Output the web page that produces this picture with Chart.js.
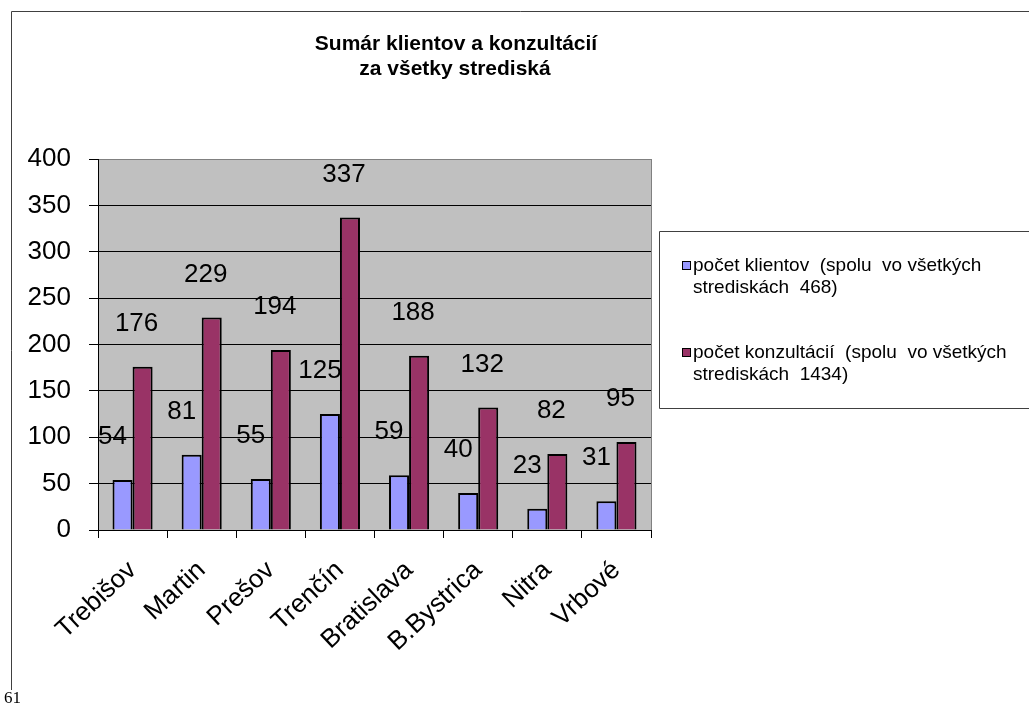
<!DOCTYPE html>
<html>
<head>
<meta charset="utf-8">
<script src="https://cdn.jsdelivr.net/npm/chart.js@4.4.1/dist/chart.umd.min.js"></script>
<style>
    html, body { margin: 0; padding: 0; background: #fff; }
    #wrap { width: 1029px; height: 705px; position: relative; }
</style>
</head>
<body>
<div id="wrap"><canvas id="chart"></canvas></div>
<script>
// Data
const categories = ["Trebišov", "Martin", "Prešov", "Trenčín", "Bratislava", "B.Bystrica", "Nitra", "Vrbové"];
const klienti = [54, 81, 55, 125, 59, 40, 23, 31];
const konzultacie = [176, 229, 194, 337, 188, 132, 82, 95];
const seriesNames = [
    "počet klientov (spolu vo všetkých strediskách 468)",
    "počet konzultácií (spolu vo všetkých strediskách 1434)"
];
const legendLines = [
    ["počet klientov  (spolu  vo všetkých", "strediskách  468)"],
    ["počet konzultácií  (spolu  vo všetkých", "strediskách  1434)"]
];
const titleLines = ["Sumár klientov a konzultácií", "za všetky strediská"];
const yTicks = [0, 50, 100, 150, 200, 250, 300, 350, 400];

const FONT = "Arial, 'Liberation Sans', sans-serif";

// Gray plot background, frame, title, legend, page number
const decorPlugin = {
    id: 'decor',
    beforeDraw(chart) {
        const ctx = chart.ctx;
        const a = chart.chartArea;
        ctx.save();
        ctx.fillStyle = '#c0c0c0';
        ctx.fillRect(a.left, a.top, a.right - a.left, a.bottom - a.top);
        // right edge of plot area
        ctx.strokeStyle = '#808080';
        ctx.lineWidth = 1;
        ctx.beginPath();
        ctx.moveTo(a.right + 0.5, a.top);
        ctx.lineTo(a.right + 0.5, a.bottom);
        ctx.stroke();
        ctx.restore();
    },
    afterDraw(chart) {
        const ctx = chart.ctx;
        ctx.save();
        // outer frame (goes past the picture on right and bottom)
        ctx.strokeStyle = '#404040';
        ctx.lineWidth = 1;
        ctx.beginPath();
        ctx.moveTo(11.5, 690);
        ctx.lineTo(11.5, 11.5);
        ctx.lineTo(1029, 11.5);
        ctx.stroke();

        // title
        ctx.fillStyle = '#000';
        ctx.font = 'bold 21px ' + FONT;
        ctx.textAlign = 'center';
        ctx.textBaseline = 'middle';
        ctx.fillText(titleLines[0], 456, 44);
        ctx.fillText(titleLines[1], 455, 69);

        // legend box
        ctx.strokeStyle = '#404040';
        ctx.beginPath();
        ctx.moveTo(1029, 231.5);
        ctx.lineTo(659.5, 231.5);
        ctx.lineTo(659.5, 408.5);
        ctx.lineTo(1029, 408.5);
        ctx.stroke();

        const itemY = [266, 353];
        chart.data.datasets.forEach((ds, i) => {
            const y = itemY[i];
            ctx.fillStyle = ds.backgroundColor;
            ctx.fillRect(683, y - 4, 7, 7);
            ctx.strokeStyle = '#000';
            ctx.lineWidth = 1;
            ctx.strokeRect(682.5, y - 4.5, 8, 8);
            ctx.fillStyle = '#000';
            ctx.font = '19px ' + FONT;
            ctx.textAlign = 'left';
            ctx.textBaseline = 'middle';
            legendLines[i].forEach((line, j) => {
                ctx.fillText(line, 693, y + j * 22);
            });
        });

        // page number
        ctx.font = "17px 'Times New Roman', 'Liberation Serif', serif";
        ctx.textAlign = 'left';
        ctx.textBaseline = 'alphabetic';
        ctx.fillText('61', 4, 703);
        ctx.restore();
    }
};

// Value labels, offset up and to the left like in the original
const valueLabels = {
    id: 'valueLabels',
    afterDatasetsDraw(chart) {
        const ctx = chart.ctx;
        const dx = [-10, -6];
        ctx.save();
        ctx.fillStyle = '#000';
        ctx.font = '26px ' + FONT;
        ctx.textAlign = 'center';
        ctx.textBaseline = 'middle';
        chart.data.datasets.forEach((ds, i) => {
            chart.getDatasetMeta(i).data.forEach((bar, j) => {
                ctx.fillText(ds.data[j], bar.x + dx[i], bar.y - 43);
            });
        });
        ctx.restore();
    }
};

new Chart(document.getElementById('chart'), {
    type: 'bar',
    data: {
        labels: categories,
        datasets: [
            {
                label: seriesNames[0],
                data: klienti,
                backgroundColor: '#9999ff',
                borderColor: '#000',
                borderWidth: 2,
                categoryPercentage: 0.58,
                barPercentage: 1
            },
            {
                label: seriesNames[1],
                data: konzultacie,
                backgroundColor: '#993366',
                borderColor: '#000',
                borderWidth: 2,
                categoryPercentage: 0.58,
                barPercentage: 1
            }
        ]
    },
    options: {
        responsive: true,
        maintainAspectRatio: false,
        animation: false,
        layout: { padding: { top: 159, left: 0, right: 378, bottom: 0 } },
        plugins: {
            legend: { display: false },
            title: { display: false },
            tooltip: { enabled: false }
        },
        scales: {
            x: {
                afterFit(scale) { scale.height = 175; },
                grid: {
                    offset: true,
                    drawOnChartArea: false,
                    color: '#000',
                    tickLength: 8
                },
                border: { color: '#000', width: 1 },
                ticks: {
                    color: '#000',
                    font: { family: FONT, size: 26 },
                    minRotation: 43,
                    maxRotation: 43,
                    padding: 17,
                    autoSkip: false
                }
            },
            y: {
                min: 0,
                max: 400,
                afterFit(scale) { scale.width = 98; },
                afterBuildTicks(scale) {
                    scale.ticks = yTicks.map(v => ({ value: v }));
                },
                grid: {
                    color: ctx => (ctx.tick && ctx.tick.value === 400 ? '#808080' : '#000'),
                    tickColor: '#000',
                    tickLength: 9
                },
                border: { color: '#000', width: 1 },
                ticks: {
                    color: '#000',
                    font: { family: FONT, size: 26 },
                    padding: 18
                }
            }
        }
    },
    plugins: [decorPlugin, valueLabels]
});
</script>
</body>
</html>
